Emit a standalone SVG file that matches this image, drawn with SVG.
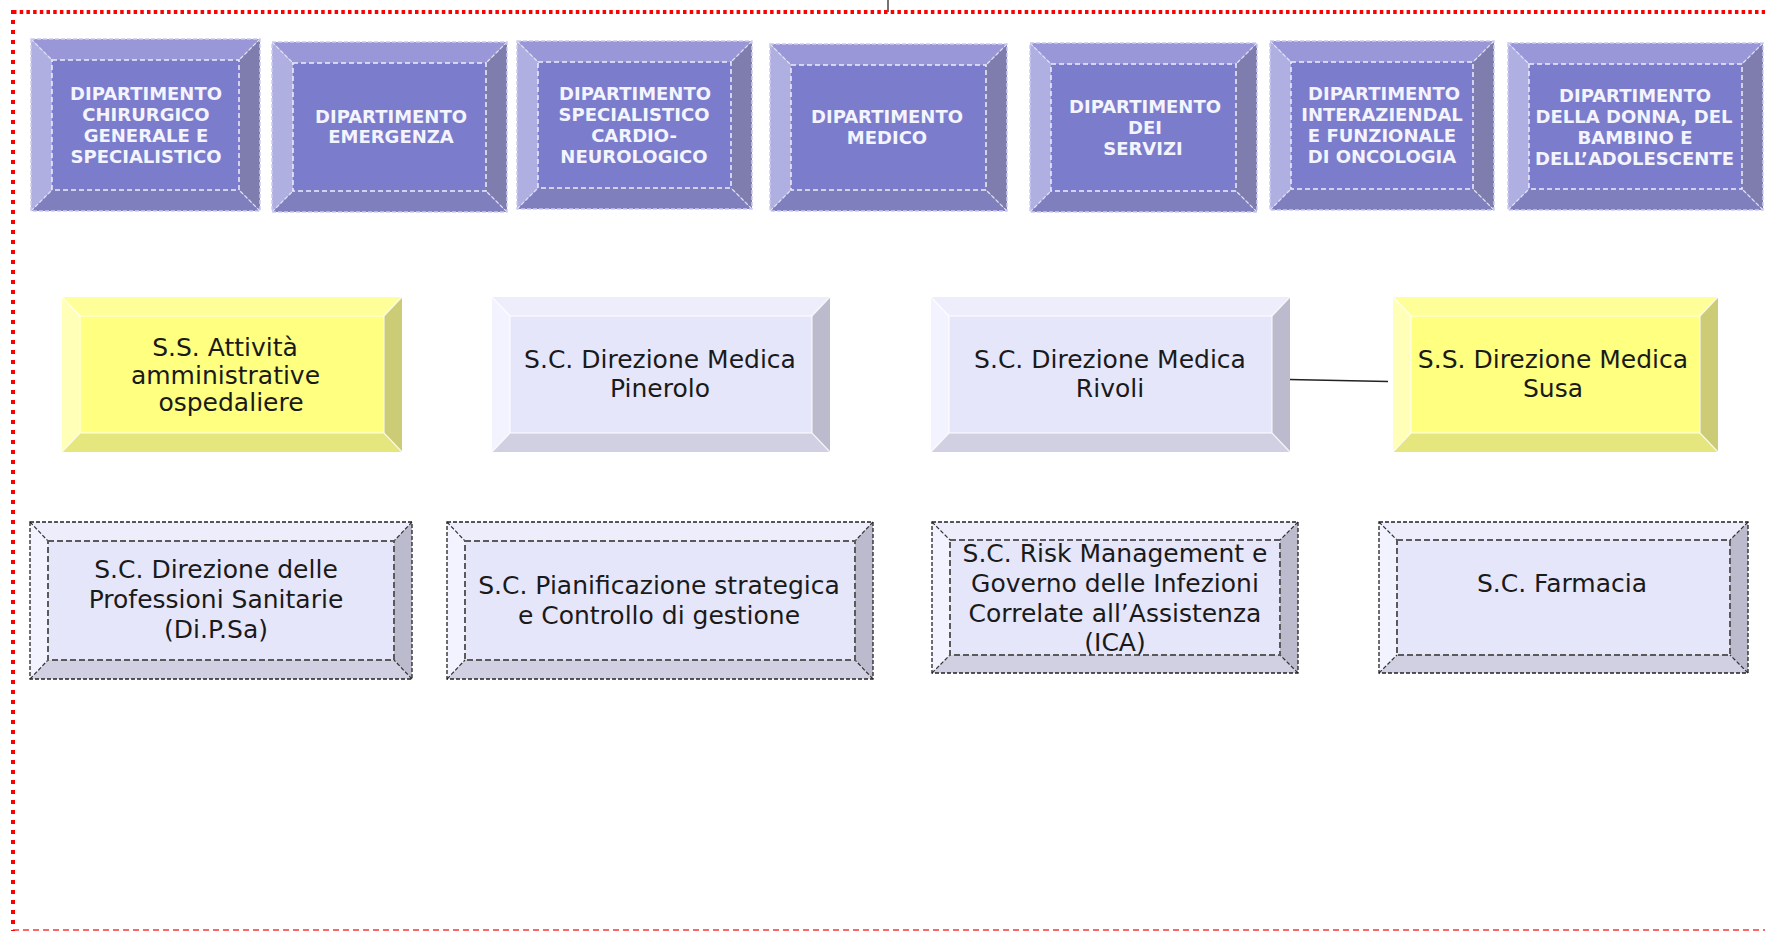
<svg xmlns="http://www.w3.org/2000/svg" width="1765" height="931" viewBox="0 0 1765 931">
<style>
.dt{fill:#9997D7}.dl{fill:#B0AFE1}.dr{fill:#7E7DAE}.db{fill:#807FBE}.di{fill:#7B7CCC}
.dout{fill:none;stroke:#CDCCF0;stroke-width:1.5;stroke-dasharray:4 2}
.din{fill:none;stroke:#EEEEFA;stroke-width:1.5;stroke-dasharray:5 3}
.ddiag{fill:none;stroke:#E2E2F6;stroke-width:1.2;stroke-dasharray:4 2}
.dtx{font-family:"DejaVu Sans",Verdana,sans-serif;font-weight:bold;font-size:18px;fill:#F4F4FF;text-anchor:middle}
.yt{fill:#FFFF99}.yl{fill:#FFFFB8}.yr{fill:#CCCC77}.yb{fill:#E6E67F}.yi{fill:#FFFF80}
.lt{fill:#EDEDFC}.ll{fill:#F3F3FF}.lr{fill:#BBBBCD}.lb{fill:#D0D0E2}.li{fill:#E6E6FA}
.soft{fill:none;stroke:#FFFFFF;stroke-width:1.3;stroke-opacity:0.75}
.oout{fill:none;stroke:#222222;stroke-width:1.3;stroke-dasharray:4 2}
.oin{fill:none;stroke:#5A5A5A;stroke-width:2;stroke-dasharray:6 3}
.odiag{fill:none;stroke:#333333;stroke-width:1.2;stroke-dasharray:4 2}
.tx{font-family:"DejaVu Sans",Verdana,sans-serif;font-size:25px;fill:#1A1A1A;text-anchor:middle}
</style>

<g id="frame">
<line x1="13" y1="12" x2="1765" y2="12" stroke="#FF0000" stroke-width="4" stroke-dasharray="3.5 3.2"/>
<line x1="13" y1="10" x2="13" y2="931" stroke="#FF0000" stroke-width="4" stroke-dasharray="4 6"/>
<line x1="13" y1="931" x2="1765" y2="931" stroke="#FF0000" stroke-width="4" stroke-dasharray="6 4" stroke-opacity="0.6"/>
</g>

<g id="connectors">
<line x1="888" y1="0" x2="888" y2="12" stroke="#444444" stroke-width="1.5"/>
<line x1="1289" y1="379.5" x2="1388" y2="381.5" stroke="#222222" stroke-width="1.6"/>
</g>

<g id="dip-chirurgico">
<polygon class="dt" points="31,39 260,39 239,60 52,60"/>
<polygon class="dl" points="31,39 52,60 52,190 31,211"/>
<polygon class="dr" points="260,39 260,211 239,190 239,60"/>
<polygon class="db" points="31,211 52,190 239,190 260,211"/>
<rect class="di" x="52" y="60" width="187" height="130"/>
<path class="ddiag" d="M31,39L52,60M260,39L239,60M31,211L52,190M260,211L239,190"/>
<rect class="dout" x="31" y="39" width="229" height="172"/>
<rect class="din" x="52" y="60" width="187" height="130"/>
<text class="dtx" x="146" y="100">DIPARTIMENTO</text>
<text class="dtx" x="146" y="121">CHIRURGICO</text>
<text class="dtx" x="146" y="142">GENERALE E</text>
<text class="dtx" x="146" y="163">SPECIALISTICO</text>
</g>

<g id="dip-emergenza">
<polygon class="dt" points="272,42 507,42 486,63 293,63"/>
<polygon class="dl" points="272,42 293,63 293,191 272,212"/>
<polygon class="dr" points="507,42 507,212 486,191 486,63"/>
<polygon class="db" points="272,212 293,191 486,191 507,212"/>
<rect class="di" x="293" y="63" width="193" height="128"/>
<path class="ddiag" d="M272,42L293,63M507,42L486,63M272,212L293,191M507,212L486,191"/>
<rect class="dout" x="272" y="42" width="235" height="170"/>
<rect class="din" x="293" y="63" width="193" height="128"/>
<text class="dtx" x="391" y="122.5">DIPARTIMENTO</text>
<text class="dtx" x="391" y="143">EMERGENZA</text>
</g>

<g id="dip-cardio">
<polygon class="dt" points="517,41 752,41 731,62 538,62"/>
<polygon class="dl" points="517,41 538,62 538,188 517,209"/>
<polygon class="dr" points="752,41 752,209 731,188 731,62"/>
<polygon class="db" points="517,209 538,188 731,188 752,209"/>
<rect class="di" x="538" y="62" width="193" height="126"/>
<path class="ddiag" d="M517,41L538,62M752,41L731,62M517,209L538,188M752,209L731,188"/>
<rect class="dout" x="517" y="41" width="235" height="168"/>
<rect class="din" x="538" y="62" width="193" height="126"/>
<text class="dtx" x="635" y="100">DIPARTIMENTO</text>
<text class="dtx" x="634" y="121">SPECIALISTICO</text>
<text class="dtx" x="634" y="142">CARDIO-</text>
<text class="dtx" x="634" y="163">NEUROLOGICO</text>
</g>

<g id="dip-medico">
<polygon class="dt" points="770,44 1007,44 986,65 791,65"/>
<polygon class="dl" points="770,44 791,65 791,190 770,211"/>
<polygon class="dr" points="1007,44 1007,211 986,190 986,65"/>
<polygon class="db" points="770,211 791,190 986,190 1007,211"/>
<rect class="di" x="791" y="65" width="195" height="125"/>
<path class="ddiag" d="M770,44L791,65M1007,44L986,65M770,211L791,190M1007,211L986,190"/>
<rect class="dout" x="770" y="44" width="237" height="167"/>
<rect class="din" x="791" y="65" width="195" height="125"/>
<text class="dtx" x="887" y="123">DIPARTIMENTO</text>
<text class="dtx" x="887" y="143.5">MEDICO</text>
</g>

<g id="dip-servizi">
<polygon class="dt" points="1030,43 1257,43 1236,64 1051,64"/>
<polygon class="dl" points="1030,43 1051,64 1051,191 1030,212"/>
<polygon class="dr" points="1257,43 1257,212 1236,191 1236,64"/>
<polygon class="db" points="1030,212 1051,191 1236,191 1257,212"/>
<rect class="di" x="1051" y="64" width="185" height="127"/>
<path class="ddiag" d="M1030,43L1051,64M1257,43L1236,64M1030,212L1051,191M1257,212L1236,191"/>
<rect class="dout" x="1030" y="43" width="227" height="169"/>
<rect class="din" x="1051" y="64" width="185" height="127"/>
<text class="dtx" x="1145" y="113">DIPARTIMENTO</text>
<text class="dtx" x="1145" y="134">DEI</text>
<text class="dtx" x="1143" y="155">SERVIZI</text>
</g>

<g id="dip-oncologia">
<polygon class="dt" points="1270,41 1494,41 1473,62 1291,62"/>
<polygon class="dl" points="1270,41 1291,62 1291,189 1270,210"/>
<polygon class="dr" points="1494,41 1494,210 1473,189 1473,62"/>
<polygon class="db" points="1270,210 1291,189 1473,189 1494,210"/>
<rect class="di" x="1291" y="62" width="182" height="127"/>
<path class="ddiag" d="M1270,41L1291,62M1494,41L1473,62M1270,210L1291,189M1494,210L1473,189"/>
<rect class="dout" x="1270" y="41" width="224" height="169"/>
<rect class="din" x="1291" y="62" width="182" height="127"/>
<text class="dtx" x="1384" y="100">DIPARTIMENTO</text>
<text class="dtx" x="1382" y="121">INTERAZIENDAL</text>
<text class="dtx" x="1382" y="142">E FUNZIONALE</text>
<text class="dtx" x="1382" y="163">DI ONCOLOGIA</text>
</g>

<g id="dip-donna">
<polygon class="dt" points="1508,43 1763,43 1742,64 1529,64"/>
<polygon class="dl" points="1508,43 1529,64 1529,189 1508,210"/>
<polygon class="dr" points="1763,43 1763,210 1742,189 1742,64"/>
<polygon class="db" points="1508,210 1529,189 1742,189 1763,210"/>
<rect class="di" x="1529" y="64" width="213" height="125"/>
<path class="ddiag" d="M1508,43L1529,64M1763,43L1742,64M1508,210L1529,189M1763,210L1742,189"/>
<rect class="dout" x="1508" y="43" width="255" height="167"/>
<rect class="din" x="1529" y="64" width="213" height="125"/>
<text class="dtx" x="1635" y="102">DIPARTIMENTO</text>
<text class="dtx" x="1634" y="122.5">DELLA DONNA, DEL</text>
<text class="dtx" x="1635" y="143.5">BAMBINO E</text>
<text class="dtx" x="1634.5" y="165">DELL’ADOLESCENTE</text>
</g>

<g id="ss-attivita">
<polygon class="yt" points="62,297 402,297 384,316 80,316"/>
<polygon class="yl" points="62,297 80,316 80,433 62,452"/>
<polygon class="yr" points="402,297 402,452 384,433 384,316"/>
<polygon class="yb" points="62,452 80,433 384,433 402,452"/>
<rect class="yi" x="80" y="316" width="304" height="117"/>
<path class="soft" d="M62,297L80,316M402,297L384,316M62,452L80,433M402,452L384,433"/>
<rect class="soft" x="80" y="316" width="304" height="117"/>
<text class="tx" x="225" y="356">S.S. Attività</text>
<text class="tx" x="225.5" y="383.5">amministrative</text>
<text class="tx" x="231" y="411">ospedaliere</text>
</g>

<g id="sc-pinerolo">
<polygon class="lt" points="492,297 830,297 812,316 510,316"/>
<polygon class="ll" points="492,297 510,316 510,433 492,452"/>
<polygon class="lr" points="830,297 830,452 812,433 812,316"/>
<polygon class="lb" points="492,452 510,433 812,433 830,452"/>
<rect class="li" x="510" y="316" width="302" height="117"/>
<path class="soft" d="M492,297L510,316M830,297L812,316M492,452L510,433M830,452L812,433"/>
<rect class="soft" x="510" y="316" width="302" height="117"/>
<text class="tx" x="660" y="368">S.C. Direzione Medica</text>
<text class="tx" x="660" y="396.5">Pinerolo</text>
</g>

<g id="sc-rivoli">
<polygon class="lt" points="931,297 1290,297 1272,316 949,316"/>
<polygon class="ll" points="931,297 949,316 949,433 931,452"/>
<polygon class="lr" points="1290,297 1290,452 1272,433 1272,316"/>
<polygon class="lb" points="931,452 949,433 1272,433 1290,452"/>
<rect class="li" x="949" y="316" width="323" height="117"/>
<path class="soft" d="M931,297L949,316M1290,297L1272,316M931,452L949,433M1290,452L1272,433"/>
<rect class="soft" x="949" y="316" width="323" height="117"/>
<text class="tx" x="1110" y="368">S.C. Direzione Medica</text>
<text class="tx" x="1110" y="396.5">Rivoli</text>
</g>

<g id="ss-susa">
<polygon class="yt" points="1393,297 1718,297 1700,316 1411,316"/>
<polygon class="yl" points="1393,297 1411,316 1411,433 1393,452"/>
<polygon class="yr" points="1718,297 1718,452 1700,433 1700,316"/>
<polygon class="yb" points="1393,452 1411,433 1700,433 1718,452"/>
<rect class="yi" x="1411" y="316" width="289" height="117"/>
<path class="soft" d="M1393,297L1411,316M1718,297L1700,316M1393,452L1411,433M1718,452L1700,433"/>
<rect class="soft" x="1411" y="316" width="289" height="117"/>
<text class="tx" x="1553" y="367.5">S.S. Direzione Medica</text>
<text class="tx" x="1553" y="396.5">Susa</text>
</g>

<g id="sc-dipsa">
<polygon class="lt" points="30,522 412,522 394,541 48,541"/>
<polygon class="ll" points="30,522 48,541 48,660 30,679"/>
<polygon class="lr" points="412,522 412,679 394,660 394,541"/>
<polygon class="lb" points="30,679 48,660 394,660 412,679"/>
<rect class="li" x="48" y="541" width="346" height="119"/>
<path class="odiag" d="M30,522L48,541M412,522L394,541M30,679L48,660M412,679L394,660"/>
<rect class="oout" x="30" y="522" width="382" height="157"/>
<rect class="oin" x="48" y="541" width="346" height="119"/>
<text class="tx" x="216" y="578">S.C. Direzione delle</text>
<text class="tx" x="216" y="608">Professioni Sanitarie</text>
<text class="tx" x="216" y="638">(Di.P.Sa)</text>
</g>

<g id="sc-pianificazione">
<polygon class="lt" points="447,522 873,522 855,541 465,541"/>
<polygon class="ll" points="447,522 465,541 465,660 447,679"/>
<polygon class="lr" points="873,522 873,679 855,660 855,541"/>
<polygon class="lb" points="447,679 465,660 855,660 873,679"/>
<rect class="li" x="465" y="541" width="390" height="119"/>
<path class="odiag" d="M447,522L465,541M873,522L855,541M447,679L465,660M873,679L855,660"/>
<rect class="oout" x="447" y="522" width="426" height="157"/>
<rect class="oin" x="465" y="541" width="390" height="119"/>
<text class="tx" x="659" y="593.5">S.C. Pianificazione strategica</text>
<text class="tx" x="659" y="623.5">e Controllo di gestione</text>
</g>

<g id="sc-risk">
<polygon class="lt" points="932,522 1298,522 1280,540 950,540"/>
<polygon class="ll" points="932,522 950,540 950,655 932,673"/>
<polygon class="lr" points="1298,522 1298,673 1280,655 1280,540"/>
<polygon class="lb" points="932,673 950,655 1280,655 1298,673"/>
<rect class="li" x="950" y="540" width="330" height="115"/>
<path class="odiag" d="M932,522L950,540M1298,522L1280,540M932,673L950,655M1298,673L1280,655"/>
<rect class="oout" x="932" y="522" width="366" height="151"/>
<rect class="oin" x="950" y="540" width="330" height="115"/>
<text class="tx" x="1115" y="562">S.C. Risk Management e</text>
<text class="tx" x="1115" y="592">Governo delle Infezioni</text>
<text class="tx" x="1115" y="621.5">Correlate all’Assistenza</text>
<text class="tx" x="1115" y="651">(ICA)</text>
</g>

<g id="sc-farmacia">
<polygon class="lt" points="1379,522 1748,522 1730,540 1397,540"/>
<polygon class="ll" points="1379,522 1397,540 1397,655 1379,673"/>
<polygon class="lr" points="1748,522 1748,673 1730,655 1730,540"/>
<polygon class="lb" points="1379,673 1397,655 1730,655 1748,673"/>
<rect class="li" x="1397" y="540" width="333" height="115"/>
<path class="odiag" d="M1379,522L1397,540M1748,522L1730,540M1379,673L1397,655M1748,673L1730,655"/>
<rect class="oout" x="1379" y="522" width="369" height="151"/>
<rect class="oin" x="1397" y="540" width="333" height="115"/>
<text class="tx" x="1562" y="592">S.C. Farmacia</text>
</g>
</svg>
